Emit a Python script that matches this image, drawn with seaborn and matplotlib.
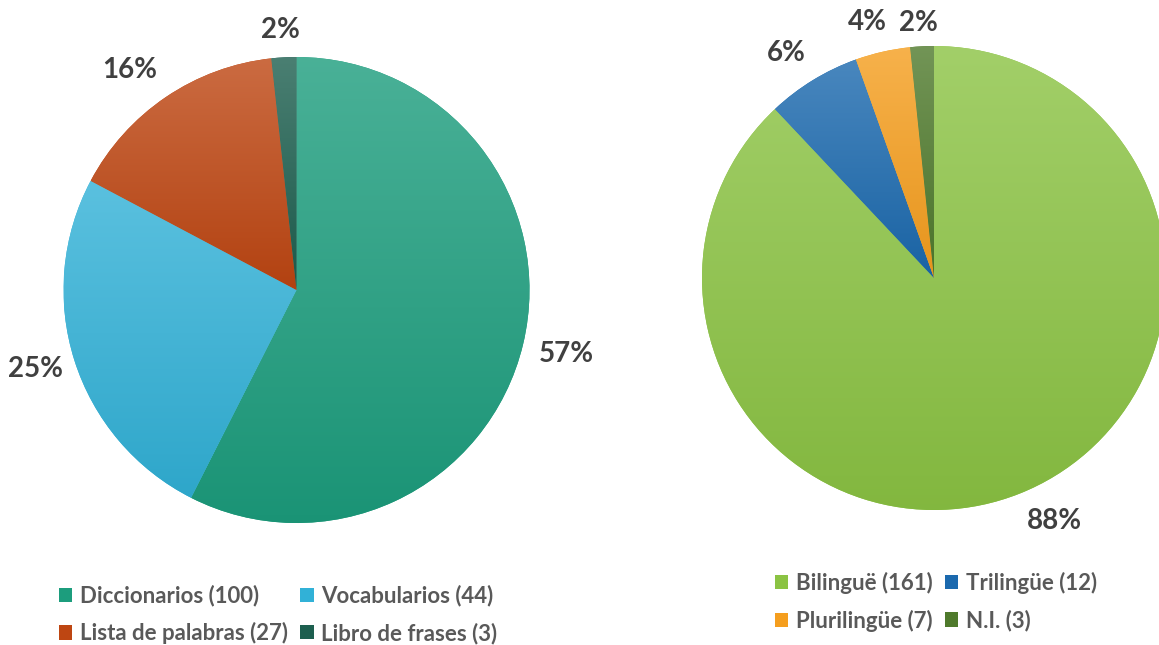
import numpy as np
import matplotlib
matplotlib.use("Agg")
import matplotlib.pyplot as plt
import matplotlib.colors as mcolors
from matplotlib.patches import Patch
import seaborn as sns

# ---- data ----
left_categories = ["Diccionarios", "Vocabularios", "Lista de palabras", "Libro de frases"]
left_counts = [100, 44, 27, 3]
left_pct_labels = ["57%", "25%", "16%", "2%"]

right_categories = ["Bilinguë", "Trilingüe", "Plurilingüe", "N.I."]
right_counts = [161, 12, 7, 3]
right_pct_labels = ["88%", "6%", "4%", "2%"]

# ---- style ----
sns.set_theme(style="white")
plt.rcParams["font.family"] = ["Lato", "DejaVu Sans"]
plt.rcParams["font.weight"] = "bold"

left_colors = sns.color_palette(["#1c9d7d", "#31b1d7", "#be4612", "#1d5f4f"])
right_colors = sns.color_palette(["#8bc343", "#1b69ae", "#f59e1e", "#4f7a2c"])
# label placement (radial distance, angular nudge in degrees)
left_label_dist = [1.19, 1.17, 1.185, 1.12]
left_label_nudge = [0.0, -0.7, 3.0, 0.5]
right_label_dist = [1.17, 1.16, 1.14, 1.10]
right_label_nudge = [4.6, 1.9, 1.9, 0.6]

PCT_COLOR = "#404040"
LEG_COLOR = "#595959"

fig = plt.figure(figsize=(11.59, 6.45), dpi=100)
W, H = 1159, 645


def gradient_fill(ax, wedge, color):
    path = wedge.get_path()
    bb = path.get_extents()
    rgb = np.array(mcolors.to_rgb(color))
    top = rgb + (1 - rgb) * 0.2
    bot = rgb * 0.94
    t = np.linspace(0, 1, 256)[:, None, None]
    img = top[None, None, :] * (1 - t) + bot[None, None, :] * t
    im = ax.imshow(img, extent=[bb.x0, bb.x1, bb.y0, bb.y1], origin="upper",
                   aspect="auto", zorder=wedge.get_zorder() + 0.1, interpolation="bilinear")
    im.set_clip_path(wedge)


def draw_pie(rect, counts, colors, pct_labels, dists, nudges):
    ax = fig.add_axes(rect)
    wedges, _ = ax.pie(counts, colors=colors, startangle=90, counterclock=False,
                       radius=1, wedgeprops=dict(linewidth=0))
    for w, c in zip(wedges, colors):
        gradient_fill(ax, w, c)
    for w, lab, d, nd in zip(wedges, pct_labels, dists, nudges):
        ang = np.deg2rad((w.theta1 + w.theta2) / 2 + nd)
        ax.text(d * np.cos(ang), d * np.sin(ang), lab, ha="center", va="center",
                fontsize=20, fontweight="bold", color=PCT_COLOR, clip_on=False)
    ax.set_xlim(-1, 1)
    ax.set_ylim(-1, 1)
    ax.set_aspect("equal")
    ax.axis("off")
    return ax


# left pie: center (296.5, 290), r 233
draw_pie([63 / W, (H - 523) / H, 467 / W, 466 / H], left_counts, left_colors,
         left_pct_labels, left_label_dist, left_label_nudge)
# right pie: center (934, 278), r 232
draw_pie([702 / W, (H - 510) / H, 464 / W, 464 / H], right_counts, right_colors,
         right_pct_labels, right_label_dist, right_label_nudge)

leg_kw = dict(frameon=False, ncol=2, loc="upper left",
              handlelength=0.6, handleheight=0.6, handletextpad=0.35,
              columnspacing=0.55, labelspacing=0.7, borderaxespad=0, borderpad=0,
              labelcolor=LEG_COLOR, prop=dict(family="Lato", weight="bold", size=16))

row_major = [0, 2, 1, 3]  # matplotlib fills columns first

lh = [Patch(facecolor=c, edgecolor="none") for c in left_colors]
ll = [f"{n} ({v})" for n, v in zip(left_categories, left_counts)]
fig.legend([lh[i] for i in row_major], [ll[i] for i in row_major],
           bbox_to_anchor=(59 / W, 1 - 585 / H), **leg_kw)

rh = [Patch(facecolor=c, edgecolor="none") for c in right_colors]
rl = [f"{n} ({v})" for n, v in zip(right_categories, right_counts)]
fig.legend([rh[i] for i in row_major], [rl[i] for i in row_major],
           bbox_to_anchor=(775 / W, 1 - 572 / H), **leg_kw)

fig.savefig("out.png", dpi=100, facecolor="white")
